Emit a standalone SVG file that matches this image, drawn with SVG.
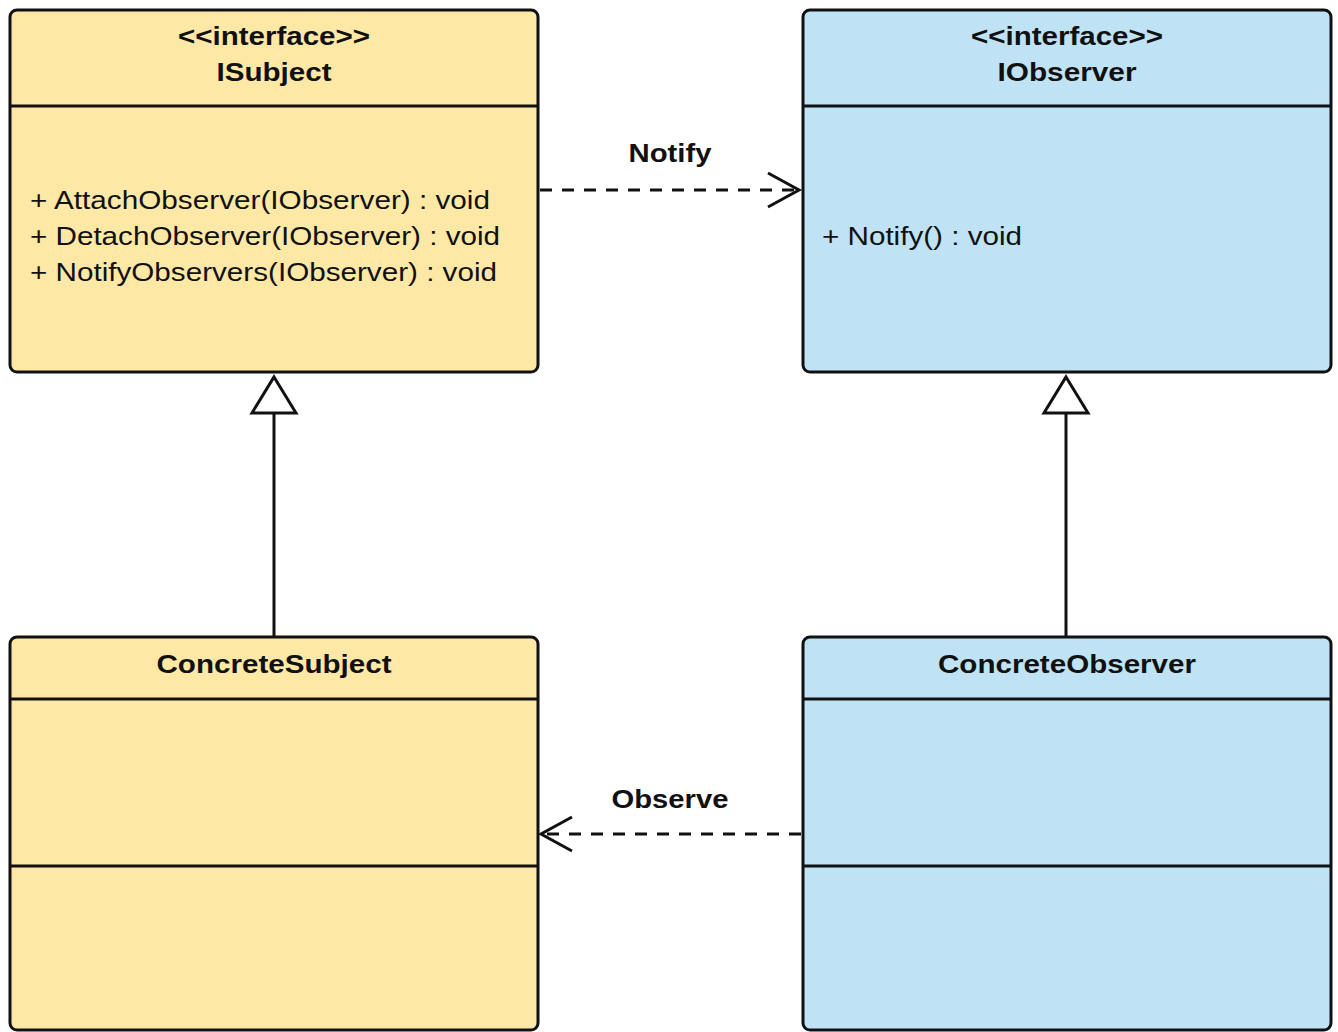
<svg xmlns="http://www.w3.org/2000/svg" width="1338" height="1032" viewBox="0 0 1338 1032">
  <style>
    .box { stroke: #111; stroke-width: 3; }
    .subj { fill: #FEE8A6; }
    .obs { fill: #BFE3F5; }
    .sep { stroke: #111; stroke-width: 3; fill: none; }
    .title { font-family: "Liberation Sans", Arial, sans-serif; font-weight: bold; font-size: 25px; fill: #111; text-anchor: middle; }
    .member { font-family: "Liberation Sans", Arial, sans-serif; font-size: 26px; fill: #111; }
    .label { font-family: "Liberation Sans", Arial, sans-serif; font-weight: bold; font-size: 26px; fill: #111; text-anchor: middle; }
    .dep { stroke: #111; stroke-width: 3; fill: none; stroke-dasharray: 12 10; }
    .solid { stroke: #111; stroke-width: 3; fill: none; }
    .head { stroke: #111; stroke-width: 3; fill: none; }
    .tri { stroke: #111; stroke-width: 3; fill: #fff; }
  </style>
  <rect width="1338" height="1032" fill="#fff"/>

  <!-- Connectors -->
  <g id="connectors">
    <!-- ISubject -> IObserver : Notify -->
    <line class="dep" x1="540" y1="190" x2="798" y2="190"/>
    <polyline class="head" points="768,173 799,190 768,207"/>
    <text class="label" x="670" y="162" textLength="83" lengthAdjust="spacingAndGlyphs">Notify</text>
    <!-- ConcreteObserver -> ConcreteSubject : Observe -->
    <line class="dep" x1="801" y1="834" x2="543" y2="834"/>
    <polyline class="head" points="572,817 541,834 572,851"/>
    <text class="label" x="670" y="808" textLength="117" lengthAdjust="spacingAndGlyphs">Observe</text>
    <!-- ConcreteSubject realizes ISubject -->
    <line class="solid" x1="274" y1="637" x2="274" y2="413"/>
    <polygon class="tri" points="274,377 296,413 252,413"/>
    <!-- ConcreteObserver realizes IObserver -->
    <line class="solid" x1="1066" y1="637" x2="1066" y2="413"/>
    <polygon class="tri" points="1066,377 1088,413 1044,413"/>
  </g>

  <!-- ISubject -->
  <g id="ISubject">
    <rect class="box subj" x="10" y="10" width="528" height="362" rx="7"/>
    <line class="sep" x1="10" y1="106" x2="538" y2="106"/>
    <text class="title" x="274" y="45" textLength="192" lengthAdjust="spacingAndGlyphs">&lt;&lt;interface&gt;&gt;</text>
    <text class="title" x="274" y="81" font-size="26" textLength="115" lengthAdjust="spacingAndGlyphs">ISubject</text>
    <text class="member" x="30" y="209" textLength="460" lengthAdjust="spacingAndGlyphs">+ AttachObserver(IObserver) : void</text>
    <text class="member" x="30" y="245" textLength="470" lengthAdjust="spacingAndGlyphs">+ DetachObserver(IObserver) : void</text>
    <text class="member" x="30" y="281" textLength="467" lengthAdjust="spacingAndGlyphs">+ NotifyObservers(IObserver) : void</text>
  </g>

  <!-- IObserver -->
  <g id="IObserver">
    <rect class="box obs" x="803" y="10" width="528" height="362" rx="7"/>
    <line class="sep" x1="803" y1="106" x2="1331" y2="106"/>
    <text class="title" x="1067" y="45" textLength="192" lengthAdjust="spacingAndGlyphs">&lt;&lt;interface&gt;&gt;</text>
    <text class="title" x="1067" y="81" font-size="26" textLength="139" lengthAdjust="spacingAndGlyphs">IObserver</text>
    <text class="member" x="822" y="245" textLength="200" lengthAdjust="spacingAndGlyphs">+ Notify() : void</text>
  </g>

  <!-- ConcreteSubject -->
  <g id="ConcreteSubject">
    <rect class="box subj" x="10" y="637" width="528" height="393" rx="7"/>
    <line class="sep" x1="10" y1="699" x2="538" y2="699"/>
    <line class="sep" x1="10" y1="866" x2="538" y2="866"/>
    <text class="title" x="274" y="673" font-size="26" textLength="235" lengthAdjust="spacingAndGlyphs">ConcreteSubject</text>
  </g>

  <!-- ConcreteObserver -->
  <g id="ConcreteObserver">
    <rect class="box obs" x="803" y="637" width="528" height="393" rx="7"/>
    <line class="sep" x1="803" y1="699" x2="1331" y2="699"/>
    <line class="sep" x1="803" y1="866" x2="1331" y2="866"/>
    <text class="title" x="1067" y="673" font-size="26" textLength="258" lengthAdjust="spacingAndGlyphs">ConcreteObserver</text>
  </g>
</svg>
